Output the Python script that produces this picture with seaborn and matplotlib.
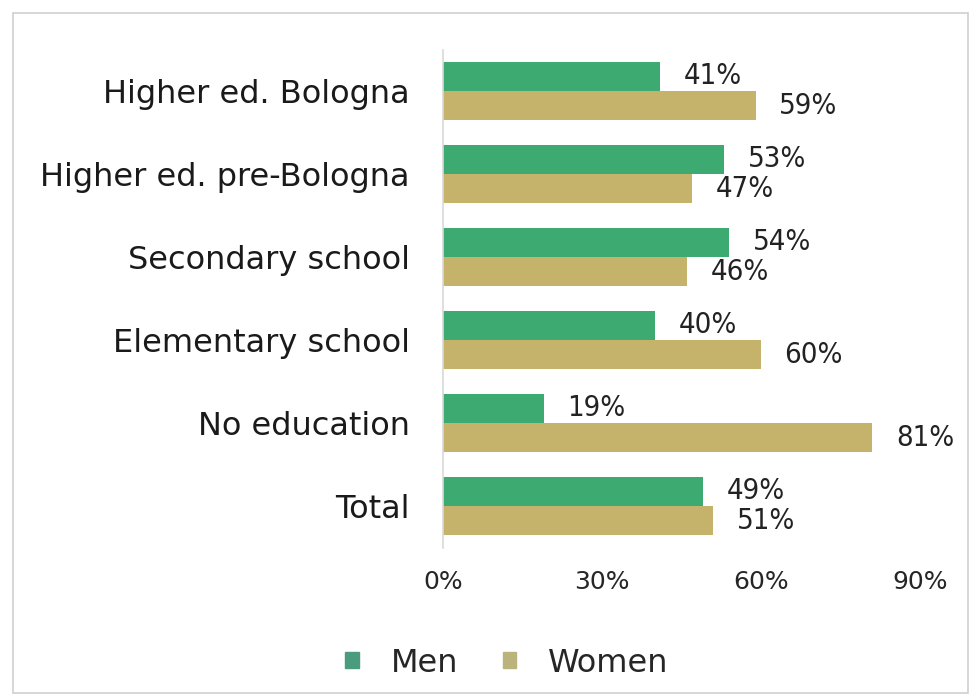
import matplotlib
matplotlib.use("Agg")
import matplotlib.pyplot as plt
import seaborn as sns
import pandas as pd
from matplotlib.patches import Rectangle

categories = ["Higher ed. Bologna", "Higher ed. pre-Bologna", "Secondary school",
              "Elementary school", "No education", "Total"]
men = [41, 53, 54, 40, 19, 49]
women = [59, 47, 46, 60, 81, 51]
series = ["Men", "Women"]
colors = ["#3daa72", "#c5b36c"]
xticks = [0, 30, 60, 90]

df = pd.DataFrame({
    "Category": categories * 2,
    "Value": men + women,
    "Sex": ["Men"] * len(categories) + ["Women"] * len(categories),
})

sns.set_theme(style="white")
plt.rcParams["font.family"] = ["DejaVu Sans"]

fig = plt.figure(figsize=(9.73, 6.98), dpi=100)
ax = fig.add_axes([443/973, 1 - 547.5/698, 477/973, (547.5 - 49.5)/698])

sns.barplot(data=df, x="Value", y="Category", hue="Sex", order=categories,
            hue_order=series, palette=colors, orient="h", width=0.7,
            saturation=1, linewidth=0, ax=ax, legend=False)

for cont, vals in zip(ax.containers, [men, women]):
    ax.bar_label(cont, labels=[f"{v}%" for v in vals], padding=17,
                 fontsize=21, fontstretch="condensed", color="#222222")

ax.set_xlim(0, 90)
ax.set_xticks(xticks)
ax.set_xticklabels([f"{t}%" for t in xticks])
ax.set_xlabel("")
ax.set_ylabel("")
ax.tick_params(axis="x", length=0, pad=16, labelsize=18, labelcolor="#262626")
ax.tick_params(axis="y", length=0, pad=24, labelsize=23, labelcolor="#1a1a1a")
for s in ["top", "right", "bottom"]:
    ax.spines[s].set_visible(False)
ax.spines["left"].set_color("#d9d9d9")
ax.spines["left"].set_linewidth(1.2)

handles = [Rectangle((0, 0), 1, 1, color=c) for c in ["#4a9c7c", "#bab47c"]]
fig.legend(handles, series, loc="center", bbox_to_anchor=(507/973, 1 - 663/698),
           ncol=2, frameon=False, fontsize=23, handlelength=0.42, handleheight=0.42,
           columnspacing=1.4, handletextpad=1.0)

fig.patches.append(Rectangle((13/973, 5/698), 955/973, 680/698, transform=fig.transFigure,
                             fill=False, edgecolor="#d0d0d0", linewidth=1.2))

fig.savefig("out.png", dpi=100, facecolor="white")
